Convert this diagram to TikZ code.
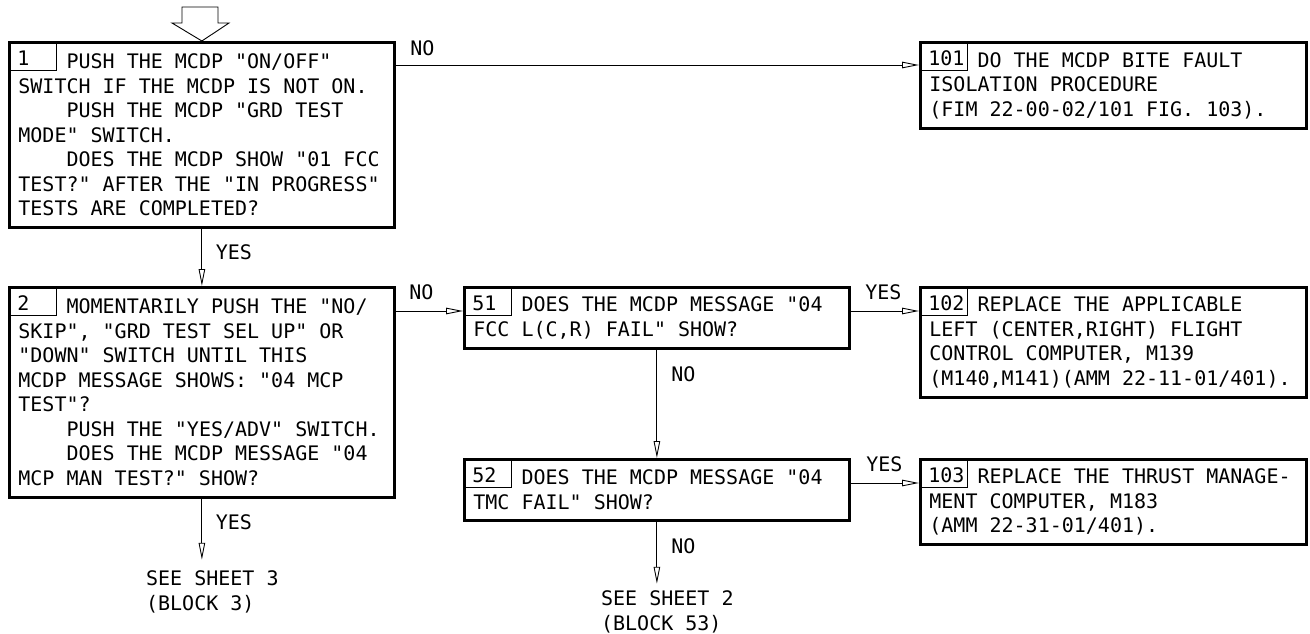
\documentclass[tikz,border=0pt]{standalone}
\usepackage{fontspec}
\setmonofont{DejaVu Sans Mono}
\usetikzlibrary{arrows.meta,calc}
\newcommand{\blockfont}{\ttfamily\fontsize{20}{24.5}\selectfont}
\newcommand{\fullspace}{\spaceskip=0pt\xspaceskip=0pt\frenchspacing}
\newcommand{\gap}{\hphantom{0000}}
\tikzset{
  block/.style={draw, line width=2.8pt, anchor=north west, align=left,
    inner xsep=9pt, inner ysep=0pt, font=\blockfont,
    execute at begin node=\fullspace},
  numbox/.style={draw, line width=0.8pt, anchor=north west, align=left,
    text width=30pt, inner xsep=9pt, inner ysep=0pt,
    text height=24pt, text depth=5pt, font=\blockfont},
  flow/.style={line width=0.9pt, -{Triangle[open, length=17pt, width=6.5pt]}},
  answer/.style={font=\blockfont, inner sep=0pt,
    execute at begin node=\fullspace}
}
\begin{document}
\begin{tikzpicture}[x=1pt, y=-1pt]
  \path[use as bounding box, fill=white] (0,0) rectangle (1310,634);
  % block 1
  \node[block, text width=367pt, minimum height=185pt] (b1) at (8,41)
    {\gap PUSH THE MCDP "ON/OFF"\\
     SWITCH IF THE MCDP IS NOT ON.\\
     \gap PUSH THE MCDP "GRD TEST\\
     MODE" SWITCH.\\
     \gap DOES THE MCDP SHOW "01 FCC\\
     TEST?" AFTER THE "IN PROGRESS"\\
     TESTS ARE COMPLETED?};
  \node[numbox] (n1) at (b1.north west) {1};
  % entry arrow
  \draw[line width=0.9pt] (182,7) -- (218,7) -- (218,23) -- (229,23)
    -- (b1.north) -- (172,23) -- (182,23) -- cycle;
  % block 101
  \node[block, text width=368pt, minimum height=86pt] (b101) at (919,41)
    {\gap DO THE MCDP BITE FAULT\\
     ISOLATION PROCEDURE\\
     (FIM 22-00-02/101 FIG. 103).};
  \node[numbox] (n101) at (b101.north west) {101};
  % block 2
  \node[block, text width=367pt, minimum height=210pt] (b2) at (8,286)
    {\gap MOMENTARILY PUSH THE "NO/\\
     SKIP", "GRD TEST SEL UP" OR\\
     "DOWN" SWITCH UNTIL THIS\\
     MCDP MESSAGE SHOWS: "04 MCP\\
     TEST"?\\
     \gap PUSH THE "YES/ADV" SWITCH.\\
     \gap DOES THE MCDP MESSAGE "04\\
     MCP MAN TEST?" SHOW?};
  \node[numbox] (n2) at (b2.north west) {2};
  % block 51
  \node[block, text width=367pt, minimum height=61pt] (b51) at (463,286)
    {\gap DOES THE MCDP MESSAGE "04\\
     FCC L(C,R) FAIL" SHOW?};
  \node[numbox] (n51) at (b51.north west) {51};
  % block 102
  \node[block, text width=368pt, minimum height=110pt] (b102) at (919,286)
    {\gap REPLACE THE APPLICABLE\\
     LEFT (CENTER,RIGHT) FLIGHT\\
     CONTROL COMPUTER, M139\\
     (M140,M141)(AMM 22-11-01/401).};
  \node[numbox] (n102) at (b102.north west) {102};
  % block 52
  \node[block, text width=367pt, minimum height=61pt] (b52) at (463,458)
    {\gap DOES THE MCDP MESSAGE "04\\
     TMC FAIL" SHOW?};
  \node[numbox] (n52) at (b52.north west) {52};
  % block 103
  \node[block, text width=368pt, minimum height=85pt] (b103) at (919,458)
    {\gap REPLACE THE THRUST MANAGE-\\
     MENT COMPUTER, M183\\
     (AMM 22-31-01/401).};
  \node[numbox] (n103) at (b103.north west) {103};
  % other sheets
  \coordinate (e3) at ($(b2.south)+(0,61)$);
  \coordinate (e2) at ($(b52.south)+(0,62)$);
  \node[answer, anchor=north west, align=left] (s3) at ($(e3)+(-56,11)$)
    {SEE SHEET 3\\(BLOCK 3)};
  \node[answer, anchor=north west, align=left] (s2) at ($(e2)+(-56,7)$)
    {SEE SHEET 2\\(BLOCK 53)};
  % connectors
  \draw[flow] (b1.south) -- (b2.north)
    node[answer, pos=0, anchor=north west, xshift=13.5pt, yshift=-15pt] {YES};
  \draw[flow] ($(b1.north east)+(0,24)$) -- ($(b101.north west)+(0,24)$)
    node[answer, pos=0, anchor=south west, xshift=14pt, yshift=9pt] {NO};
  \draw[flow] ($(b2.north east)+(0,25)$) -- ($(b51.north west)+(0,25)$)
    node[answer, pos=0, anchor=south west, xshift=13pt, yshift=11pt] {NO};
  \draw[flow] ($(b51.north east)+(0,25)$) -- ($(b102.north west)+(0,25)$)
    node[answer, pos=0, anchor=south west, xshift=14pt, yshift=11pt] {YES};
  \draw[flow] ($(b52.north east)+(0,25)$) -- ($(b103.north west)+(0,25)$)
    node[answer, pos=0, anchor=south west, xshift=15pt, yshift=11pt] {YES};
  \draw[flow] (b51.south) -- (b52.north)
    node[answer, pos=0, anchor=north west, xshift=14pt, yshift=-16pt] {NO};
  \draw[flow] (b52.south) -- (e2)
    node[answer, pos=0, anchor=north west, xshift=14pt, yshift=-16pt] {NO};
  \draw[flow] (b2.south) -- (e3)
    node[answer, pos=0, anchor=north west, xshift=13.5pt, yshift=-15pt] {YES};
\end{tikzpicture}
\end{document}
